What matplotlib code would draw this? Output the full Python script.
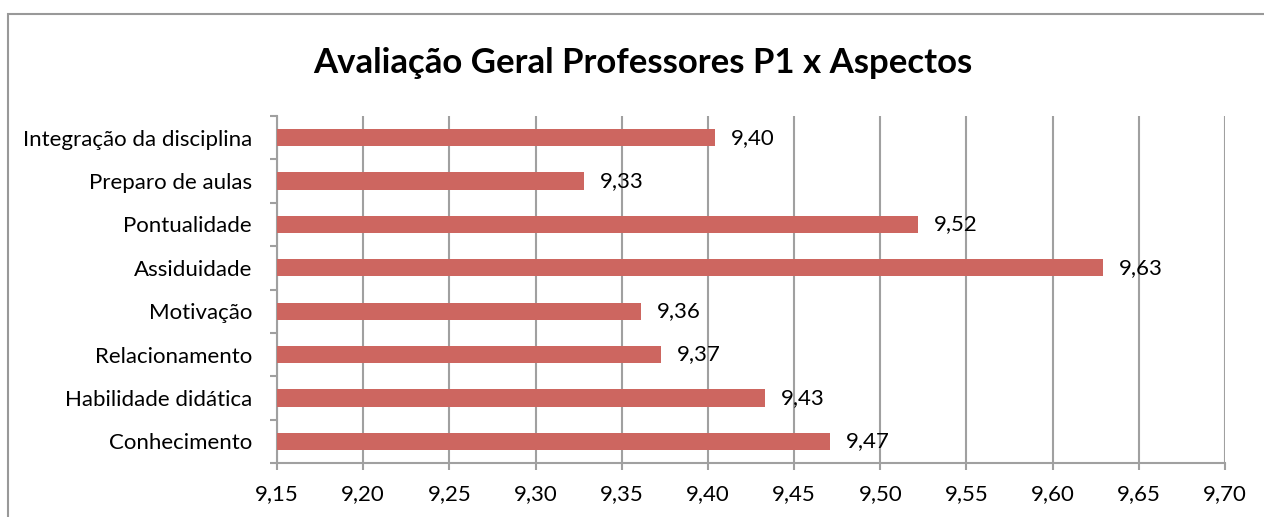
import matplotlib
matplotlib.use("Agg")
import matplotlib.pyplot as plt
from matplotlib.patches import Rectangle
from matplotlib.ticker import FixedLocator, FuncFormatter

categories = ["Conhecimento", "Habilidade didática", "Relacionamento", "Motivação",
              "Assiduidade", "Pontualidade", "Preparo de aulas", "Integração da disciplina"]
values = [9.471, 9.433, 9.373, 9.361, 9.629, 9.522, 9.328, 9.404]
xticks = [9.15, 9.20, 9.25, 9.30, 9.35, 9.40, 9.45, 9.50, 9.55, 9.60, 9.65, 9.70]
title = "Avaliação Geral Professores P1 x Aspectos"

plt.rcParams['font.family'] = ['Lato', 'DejaVu Sans']

W, H = 1264, 517
fig = plt.figure(figsize=(W / 100, H / 100), dpi=100)
ax = fig.add_axes([277 / W, 1 - 463 / H, (1225 - 277) / W, (463 - 116) / H])

bar_color = "#CD6660"
grid_color = "#A0A0A0"

y = list(range(len(categories)))
ax.barh(y, [v - xticks[0] for v in values], left=xticks[0], height=0.4,
        color=bar_color, zorder=3)

for yi, v in zip(y, values):
    ax.text(v + 16 / 86.2 * 0.05, yi, f"{v:.2f}".replace(".", ","),
            va="center", ha="left", fontsize=16, zorder=4)

ax.set_xlim(xticks[0], xticks[-1])
ax.set_ylim(-0.5, len(categories) - 0.5)
ax.xaxis.set_major_locator(FixedLocator(xticks))
ax.xaxis.set_major_formatter(FuncFormatter(lambda x, p: f"{x:.2f}".replace(".", ",")))
ax.set_yticks(y)
ax.set_yticklabels(categories)
ax.yaxis.set_minor_locator(FixedLocator([i - 0.5 for i in range(len(categories) + 1)]))

ax.grid(axis="x", color=grid_color, linewidth=1.5, zorder=0)
for s in ["top", "right"]:
    ax.spines[s].set_visible(False)
for s in ["left", "bottom"]:
    ax.spines[s].set_color(grid_color)
    ax.spines[s].set_linewidth(1.5)

ax.tick_params(axis="x", which="major", length=5, width=1.5, color=grid_color,
               labelsize=16, pad=10)
ax.tick_params(axis="y", which="major", length=0, labelsize=16, pad=18)
ax.tick_params(axis="y", which="minor", length=5, width=1.5, color=grid_color)

fig.text(643 / W, 1 - 63 / H, title, ha="center", va="center",
         fontsize=25, fontweight="bold")

fig.patches.append(Rectangle((8 / W, -0.05), 1.1, 1 - 14 / H + 0.05,
                             transform=fig.transFigure, fill=False,
                             edgecolor="#999999", linewidth=1.5, clip_on=False))

fig.savefig("out.png", dpi=100)
